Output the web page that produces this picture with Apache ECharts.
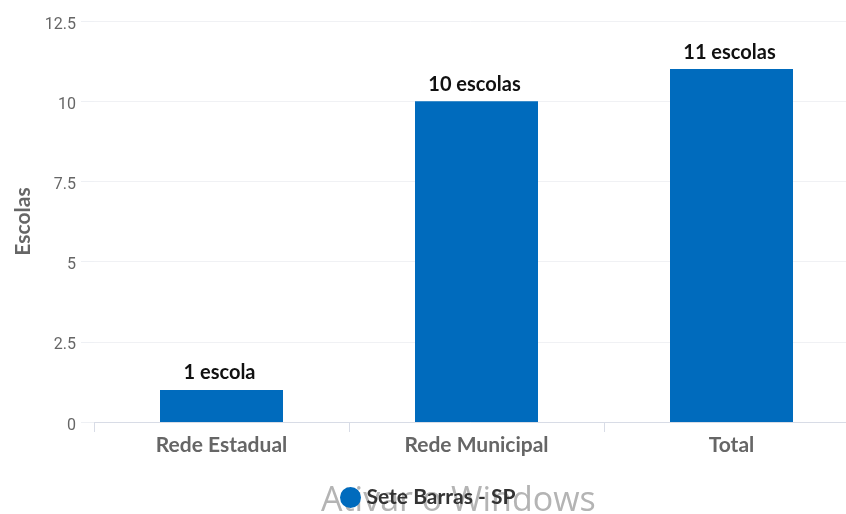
<!DOCTYPE html>
<html><head><meta charset="utf-8">
<style>html,body{margin:0;padding:0;background:#fff}#c{width:846px;height:514px}</style>
<script src="https://cdn.jsdelivr.net/npm/echarts@6/dist/echarts.min.js"></script>
</head><body><div id="c"></div>
<script>
const categories = ['Rede Estadual','Rede Municipal','Total'];
const values = [1,10,11];
const dataLabels = ['1 escola','10 escolas','11 escolas'];
const seriesName = 'Sete Barras - SP';
const yTicks = {min:0,max:12.5,interval:2.5};
const chart = echarts.init(document.getElementById('c'),null,{renderer:'canvas'});
chart.setOption({
  animation:false,
  backgroundColor:'#fff',
  textStyle:{fontFamily:'Lato'},
  grid:{left:94,width:765,top:21,height:401,outerBoundsMode:'none'},
  legend:{
    data:[{name:seriesName,icon:'circle'}],
    left:335,top:482,itemWidth:22,itemHeight:21,itemGap:6,
    textStyle:{color:'#333',fontSize:21,fontWeight:'bold',fontFamily:'Lato'}
  },
  xAxis:{
    type:'category',data:categories,
    axisLine:{lineStyle:{color:'#d8dce6',width:1}},
    axisTick:{show:true,length:10,alignWithLabel:false,lineStyle:{color:'#d8dce6'}},
    axisLabel:{color:'#666',fontSize:21,fontWeight:'bold',margin:13,fontFamily:'Lato'}
  },
  yAxis:{
    type:'value',min:yTicks.min,max:yTicks.max,interval:yTicks.interval,
    name:'Escolas',nameLocation:'middle',nameGap:60,nameRotate:90,
    nameTextStyle:{color:'#666',fontSize:21,fontWeight:'bold',fontFamily:'Lato'},
    axisLine:{show:false},
    axisTick:{show:true,length:13,lineStyle:{color:'#eef0f4'}},
    splitLine:{lineStyle:{color:'#f0f1f4',width:1}},
    axisLabel:{color:'#666',fontSize:16,margin:18,fontFamily:'Roboto',verticalAlign:'top',lineHeight:7,
      formatter:v=>String(v)}
  },
  series:[{
    name:seriesName,type:'bar',data:values,barWidth:123,
    itemStyle:{color:'#006bbd'},
    label:{show:true,position:'top',distance:7,offset:[-2,0],color:'#111',fontSize:20,fontWeight:'bold',fontFamily:'Lato',
      formatter:p=>dataLabels[p.dataIndex]}
  }],
  graphic:[{
    type:'text',left:321,top:484,silent:true,z:-1,
    style:{text:'Ativar o Windows',fontSize:34,fontFamily:'Open Sans',fill:'#b4b4b4'}
  }]
});
</script></body></html>
